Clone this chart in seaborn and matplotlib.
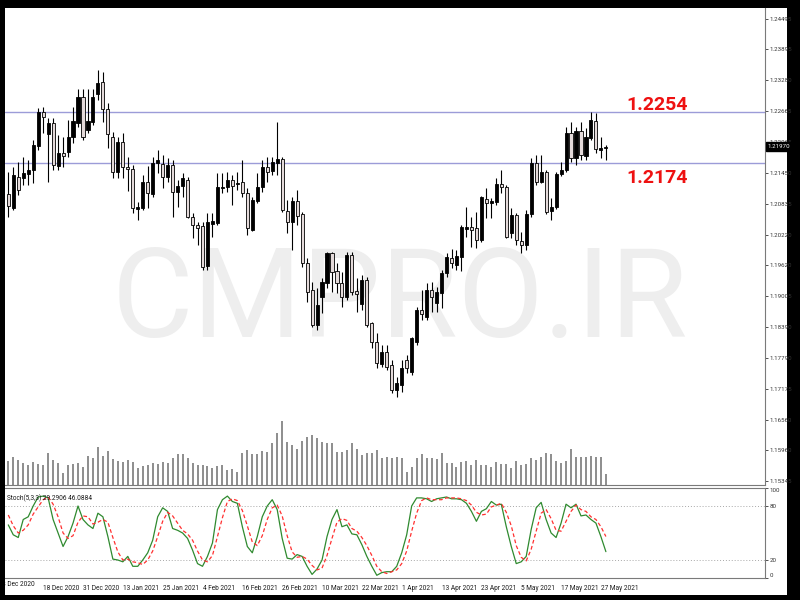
import numpy as np
import pandas as pd
import matplotlib
matplotlib.use("Agg")
import matplotlib.pyplot as plt
import matplotlib.transforms as mtransforms
from matplotlib.patches import Rectangle
import seaborn as sns

# --------------------------
# Data (EURUSD daily, MT4 style)
# --------------------------
opens = [
    1.2103, 1.2075, 1.2137, 1.2135, 1.2143, 1.2151, 1.2198, 1.2265, 1.2222, 1.2244,
    1.2158, 1.2184, 1.2186, 1.2216, 1.2244, 1.2295, 1.2230, 1.2246, 1.2301, 1.2325,
    1.2271, 1.2216, 1.2147, 1.2206, 1.2156, 1.2152, 1.2073, 1.2075, 1.2127, 1.2103,
    1.2164, 1.2162, 1.2137, 1.2160, 1.2107, 1.2119, 1.2131, 1.2057, 1.2042, 1.2040,
    1.1960, 1.2043, 1.2045, 1.2115, 1.2117, 1.2131, 1.2123, 1.2127, 1.2105, 1.2032,
    1.2089, 1.2117, 1.2156, 1.2149, 1.2164, 1.2172, 1.2069, 1.2047, 1.2089, 1.2063,
    1.1966, 1.1913, 1.1844, 1.1899, 1.1927, 1.1986, 1.1951, 1.1927, 1.1899, 1.1982,
    1.1911, 1.1885, 1.1933, 1.1848, 1.1810, 1.1766, 1.1790, 1.1764, 1.1715, 1.1725,
    1.1774, 1.1750, 1.1810, 1.1873, 1.1859, 1.1913, 1.1887, 1.1907, 1.1947, 1.1976,
    1.1962, 1.1978, 1.2034, 1.2038, 1.2036, 1.2012, 1.2093, 1.2085, 1.2087, 1.2123,
    1.2117, 1.2026, 1.2061, 1.2010, 1.2002, 1.2063, 1.2164, 1.2127, 1.2147, 1.2069,
    1.2077, 1.2143, 1.2151, 1.2224, 1.2174, 1.2228, 1.2178, 1.2214, 1.2248, 1.2190,
    1.2194]
highs = [
    1.2147, 1.2157, 1.2166, 1.2176, 1.2170, 1.2210, 1.2273, 1.2275, 1.2254, 1.2254,
    1.2220, 1.2216, 1.2250, 1.2275, 1.2311, 1.2311, 1.2311, 1.2311, 1.2349, 1.2345,
    1.2283, 1.2226, 1.2216, 1.2224, 1.2176, 1.2160, 1.2087, 1.2141, 1.2158, 1.2176,
    1.2190, 1.2180, 1.2174, 1.2170, 1.2131, 1.2145, 1.2137, 1.2065, 1.2048, 1.2048,
    1.2065, 1.2065, 1.2145, 1.2145, 1.2147, 1.2141, 1.2147, 1.2170, 1.2115, 1.2097,
    1.2145, 1.2170, 1.2176, 1.2176, 1.2246, 1.2176, 1.2091, 1.2097, 1.2111, 1.2067,
    1.1976, 1.1929, 1.1917, 1.1937, 1.1988, 1.1988, 1.1966, 1.1949, 1.1988, 1.1988,
    1.1937, 1.1943, 1.1939, 1.1850, 1.1828, 1.1804, 1.1804, 1.1774, 1.1741, 1.1774,
    1.1784, 1.1820, 1.1879, 1.1913, 1.1927, 1.1929, 1.1919, 1.1953, 1.1986, 1.1994,
    1.1992, 1.2042, 1.2077, 1.2057, 1.2067, 1.2099, 1.2115, 1.2095, 1.2135, 1.2151,
    1.2121, 1.2075, 1.2065, 1.2028, 1.2071, 1.2174, 1.2180, 1.2180, 1.2151, 1.2095,
    1.2147, 1.2166, 1.2236, 1.2246, 1.2236, 1.2246, 1.2234, 1.2265, 1.2263, 1.2216,
    1.2200]
lows = [
    1.2057, 1.2071, 1.2101, 1.2121, 1.2121, 1.2125, 1.2190, 1.2224, 1.2127, 1.2151,
    1.2151, 1.2156, 1.2176, 1.2204, 1.2236, 1.2210, 1.2224, 1.2240, 1.2289, 1.2246,
    1.2194, 1.2135, 1.2135, 1.2135, 1.2109, 1.2065, 1.2052, 1.2071, 1.2075, 1.2097,
    1.2145, 1.2115, 1.2127, 1.2057, 1.2077, 1.2097, 1.2055, 1.2016, 1.2002, 1.1953,
    1.1953, 1.2018, 1.2042, 1.2105, 1.2107, 1.2081, 1.2111, 1.2097, 1.2022, 1.2030,
    1.2085, 1.2107, 1.2127, 1.2141, 1.2141, 1.2067, 1.2026, 1.1992, 1.2042, 1.1958,
    1.1889, 1.1840, 1.1834, 1.1867, 1.1917, 1.1909, 1.1907, 1.1879, 1.1893, 1.1903,
    1.1869, 1.1873, 1.1840, 1.1798, 1.1758, 1.1760, 1.1754, 1.1709, 1.1701, 1.1711,
    1.1748, 1.1745, 1.1804, 1.1853, 1.1853, 1.1869, 1.1869, 1.1877, 1.1939, 1.1956,
    1.1952, 1.1950, 1.2018, 1.1998, 1.1996, 1.2008, 1.2055, 1.2055, 1.2081, 1.2105,
    1.2016, 1.2016, 1.2002, 1.1986, 1.1992, 1.2057, 1.2121, 1.2125, 1.2063, 1.2051,
    1.2073, 1.2139, 1.2147, 1.2166, 1.2160, 1.2170, 1.2170, 1.2210, 1.2184, 1.2174,
    1.2170]
closes = [
    1.2079, 1.2141, 1.2111, 1.2145, 1.2151, 1.2200, 1.2265, 1.2255, 1.2244, 1.2160,
    1.2184, 1.2178, 1.2216, 1.2248, 1.2295, 1.2216, 1.2248, 1.2295, 1.2323, 1.2271,
    1.2222, 1.2147, 1.2206, 1.2156, 1.2152, 1.2075, 1.2077, 1.2127, 1.2105, 1.2164,
    1.2170, 1.2137, 1.2160, 1.2107, 1.2119, 1.2135, 1.2057, 1.2042, 1.2036, 1.1958,
    1.2048, 1.2049, 1.2117, 1.2117, 1.2131, 1.2119, 1.2125, 1.2105, 1.2036, 1.2091,
    1.2117, 1.2156, 1.2147, 1.2166, 1.2172, 1.2071, 1.2047, 1.2089, 1.2059, 1.1966,
    1.1909, 1.1844, 1.1883, 1.1929, 1.1986, 1.1949, 1.1927, 1.1899, 1.1982, 1.1909,
    1.1905, 1.1933, 1.1844, 1.1810, 1.1768, 1.1790, 1.1760, 1.1715, 1.1729, 1.1758,
    1.1758, 1.1818, 1.1873, 1.1865, 1.1913, 1.1899, 1.1909, 1.1947, 1.1978, 1.1966,
    1.1980, 1.2038, 1.2038, 1.2032, 1.2012, 1.2097, 1.2085, 1.2089, 1.2123, 1.2117,
    1.2018, 1.2061, 1.2012, 1.2002, 1.2063, 1.2164, 1.2127, 1.2147, 1.2067, 1.2077,
    1.2143, 1.2151, 1.2224, 1.2174, 1.2228, 1.2180, 1.2216, 1.2250, 1.2192, 1.2194,
    1.2197]

# tick volume (relative units)
volumes = [
    24, 28, 25, 22, 20, 23, 21, 20, 32, 25, 22, 12, 20, 21, 22, 18, 29, 27, 38, 29,
    34, 26, 24, 23, 25, 23, 17, 19, 20, 22, 21, 23, 22, 27, 31, 31, 27, 22, 20, 20,
    19, 17, 19, 20, 15, 16, 13, 32, 35, 31, 31, 34, 33, 42, 52, 64, 43, 40, 36, 44,
    48, 50, 47, 43, 42, 42, 33, 33, 35, 42, 36, 30, 32, 32, 35, 27, 28, 27, 28,
    27, 13, 18, 27, 31, 27, 27, 26, 32, 22, 22, 18, 23, 24, 20, 25, 20, 20, 18, 23,
    21, 21, 17, 24, 20, 21, 27, 25, 28, 32, 31, 24, 22, 24, 36, 28, 28, 28, 29, 28,
    28, 11]

stoch_k = [
    59, 48, 45, 65, 68, 80, 90, 91, 89, 65, 50, 35, 46, 61, 80, 65, 59, 55, 72, 68,
    46, 21, 20, 18, 24, 13, 13, 20, 28, 42, 68, 78, 74, 55, 53, 50, 44, 31, 16, 13,
    24, 39, 76, 87, 91, 85, 83, 57, 35, 28, 46, 68, 80, 87, 76, 44, 22, 21, 26, 24,
    13, 4, 10, 20, 46, 65, 76, 57, 59, 49, 48, 37, 24, 13, 3, 6, 7, 7, 13, 28,
    48, 80, 89, 89, 88, 85, 88, 89, 90, 88, 88, 87, 83, 74, 63, 74, 77, 85, 81, 82,
    57, 35, 16, 18, 24, 54, 78, 84, 65, 50, 45, 61, 82, 78, 82, 69, 70, 65, 61, 46,
    29.2906]
stoch_d = [
    70, 58, 50, 53, 59, 71, 79, 87, 90, 82, 68, 50, 44, 47, 62, 69, 68, 60, 62, 65,
    62, 45, 29, 20, 21, 18, 17, 15, 20, 30, 46, 63, 73, 69, 61, 53, 49, 42, 30, 20,
    18, 25, 46, 67, 85, 88, 86, 75, 58, 40, 36, 47, 65, 78, 81, 69, 47, 29, 23, 24,
    21, 14, 9, 11, 25, 44, 62, 66, 64, 55, 52, 45, 36, 25, 13, 7, 5, 7, 9, 16,
    30, 52, 72, 86, 89, 87, 87, 87, 89, 89, 89, 88, 86, 81, 73, 70, 71, 79, 81, 83,
    73, 58, 36, 23, 19, 32, 52, 72, 76, 66, 53, 52, 63, 74, 81, 76, 74, 68, 65, 57,
    46.0884]

first_label = "8 Dec 2020"
date_ticks = [7, 15, 23, 31, 39, 47, 55, 63, 71, 79, 87, 95, 103, 111, 119]
date_labels = ["18 Dec 2020", "31 Dec 2020", "13 Jan 2021", "25 Jan 2021", "4 Feb 2021",
               "16 Feb 2021", "26 Feb 2021", "10 Mar 2021", "22 Mar 2021", "1 Apr 2021",
               "13 Apr 2021", "23 Apr 2021", "5 May 2021", "17 May 2021", "27 May 2021"]
price_ticks = [1.24495, 1.23895, 1.23280, 1.22665, 1.22065, 1.21450, 1.20835, 1.20220,
               1.19620, 1.19005, 1.18390, 1.17790, 1.17175, 1.16560, 1.15960, 1.15345]
stoch_ticks = [0, 20, 80, 100]
level_prices = [1.2266, 1.2164]
level_texts = ["1.2254", "1.2174"]
last_price = 1.21970

# --------------------------
# Style
# --------------------------
sns.set_style("white")
plt.rcParams["font.family"] = ["Roboto", "DejaVu Sans"]
SMALL = 4.7

df = pd.DataFrame({"open": opens, "high": highs, "low": lows, "close": closes,
                   "volume": volumes, "k": stoch_k, "d": stoch_d})
df["bar"] = np.arange(len(df))
bull = df["close"] >= df["open"]

W, H = 800, 600
fig = plt.figure(figsize=(8, 6), dpi=100, facecolor="black")
fig.add_artist(Rectangle((5 / W, 5 / H), 782 / W, 587 / H, transform=fig.transFigure,
                         facecolor="white", edgecolor="none", zorder=-10))

ax_p = fig.add_axes([5 / W, 1 - 485 / H, 760 / W, 477 / H])
ax_s = fig.add_axes([5 / W, 1 - 578 / H, 760 / W, 90 / H])
ax_v = ax_p.twinx()
for a in (ax_p, ax_s, ax_v):
    a.patch.set_visible(False)

xmin, xmax = -0.66, 151.95
p_lo, p_hi = 1.15268, 1.24713

# watermark
ax_p.text(0.52, 0.31, "CMPRO.IR", transform=ax_p.transAxes, ha="center", va="baseline",
          fontsize=90, color="#eeeeee", zorder=0)

# level lines
for lv, txt, dy in zip(level_prices, level_texts, [0.0003, -0.0040]):
    ax_p.axhline(lv, color="#9c9cd8", lw=1.0, zorder=1)
    ax_p.text(124.2, lv + dy, txt, color="#ee1111", fontsize=14, fontweight="bold",
              va="baseline", ha="left")

# candles
ax_p.vlines(df["bar"], df["low"], df["high"], color="black", lw=0.8, zorder=2)
body_lo = np.minimum(df["open"], df["close"])
body_h = np.maximum(np.abs(df["close"] - df["open"]), 0.00008)
ax_p.bar(df["bar"], body_h, bottom=body_lo, width=0.62,
         color=np.where(bull, "black", "#e4dada"), edgecolor="black", linewidth=0.6, zorder=3)

ax_p.set_xlim(xmin, xmax)
ax_p.set_ylim(p_lo, p_hi)
ax_p.set_xticks([])
ax_p.yaxis.tick_right()
ax_p.set_yticks(price_ticks)
ax_p.set_yticklabels([f"{t:.5f}" for t in price_ticks])
ax_p.tick_params(axis="y", length=2.5, width=0.6, pad=1.0, labelsize=4.4,
                 colors="#333333", direction="out")
for s in ("top", "left"):
    ax_p.spines[s].set_visible(False)
for s in ("right", "bottom"):
    ax_p.spines[s].set_color("#7a7a7a")
    ax_p.spines[s].set_linewidth(0.8)

# current price box
trans = mtransforms.blended_transform_factory(ax_p.transAxes, ax_p.transData)
ax_p.text(1.0035, last_price, f"{last_price:.5f}", transform=trans, ha="left", va="center",
          fontsize=4.4, color="white", clip_on=False, zorder=10,
          bbox=dict(boxstyle="square,pad=0.35", facecolor="black", edgecolor="black"))

# volumes
ax_v.vlines(df["bar"], 0, df["volume"], color="#7a7a7a", lw=1.2, zorder=1)
ax_v.set_ylim(0, 477)
ax_v.set_xlim(xmin, xmax)
ax_v.set_yticks([])
for s in ax_v.spines.values():
    s.set_visible(False)

# stochastic
ax_s.axhline(80, color="#a8a8a8", lw=0.7, ls=(0, (1, 2)))
ax_s.axhline(20, color="#a8a8a8", lw=0.7, ls=(0, (1, 2)))
sns.lineplot(data=df, x="bar", y="k", ax=ax_s, color="#2f8a2f", lw=0.9)
sns.lineplot(data=df, x="bar", y="d", ax=ax_s, color="#ff3030", lw=0.9)
ax_s.lines[-1].set_linestyle((0, (3, 2)))
ax_s.set_xlim(xmin, xmax)
ax_s.set_ylim(0, 100)
ax_s.set_xlabel("")
ax_s.set_ylabel("")
ax_s.yaxis.tick_right()
ax_s.set_yticks(stoch_ticks)
ax_s.set_yticklabels([str(t) for t in stoch_ticks])
ax_s.tick_params(axis="y", length=2.5, width=0.6, pad=1.0, labelsize=4.4, colors="#333333")
ylabs = ax_s.get_yticklabels()
ylabs[0].set_va("bottom")   # 0 kept inside the window
ylabs[-1].set_va("top")     # 100 kept inside the window
ax_s.set_xticks(date_ticks)
ax_s.set_xticklabels(date_labels, ha="left")
ax_s.tick_params(axis="x", length=3, width=0.6, pad=2, labelsize=SMALL, colors="#1a1a1a")
ax_s.spines["left"].set_visible(False)
for s in ("top", "right", "bottom"):
    ax_s.spines[s].set_color("#7a7a7a")
    ax_s.spines[s].set_linewidth(0.8)
ax_s.text(0.003, 0.93, f"Stoch(5,3,3) {stoch_k[-1]:.4f} {stoch_d[-1]:.4f}",
          transform=ax_s.transAxes, fontsize=SMALL, va="top", ha="left", color="#1a1a1a")
# first date label, partly hidden behind the left border like in the terminal
lab_tr = mtransforms.blended_transform_factory(ax_s.transData, ax_s.transAxes) + \
    mtransforms.ScaledTranslation(-1 / 72, 0, fig.dpi_scale_trans)
ax_s.text(-1, -0.035, first_label, transform=lab_tr, fontsize=SMALL, va="top",
          ha="left", color="#1a1a1a", clip_on=False)

# black left border drawn on top
fig.add_artist(Rectangle((0, 0), 5 / W, 1, transform=fig.transFigure,
                         facecolor="black", edgecolor="none", zorder=20))

fig.savefig("out.png", dpi=100, facecolor=fig.get_facecolor())
